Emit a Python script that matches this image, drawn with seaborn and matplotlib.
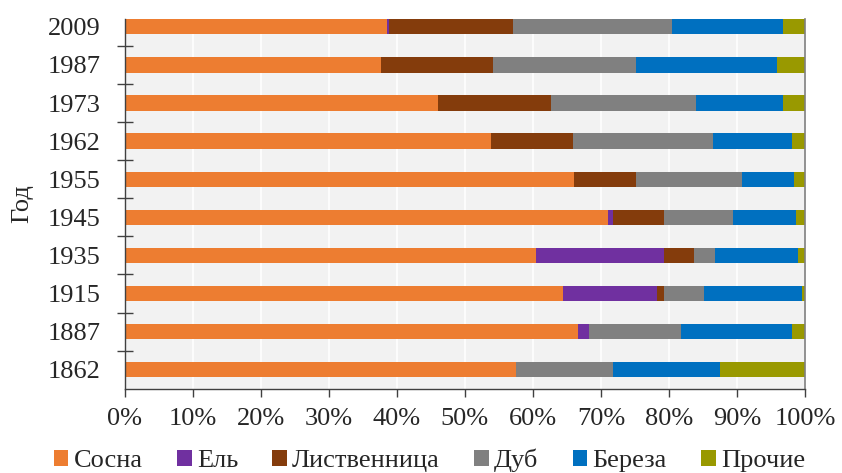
import numpy as np
import pandas as pd
import matplotlib
matplotlib.use("Agg")
import matplotlib.pyplot as plt
from matplotlib.patches import Patch
from matplotlib.ticker import FixedLocator
import seaborn as sns

# Species composition of the forest by survey year (share, %)
years = ["2009", "1987", "1973", "1962", "1955", "1945", "1935", "1915", "1887", "1862"]
species = ["Сосна", "Ель", "Лиственница", "Дуб", "Береза", "Прочие"]
sosna = [38.6, 37.7, 46.1, 53.8, 66.1, 71.1, 60.5, 64.4, 66.7, 57.5]
el = [0.2, 0.0, 0.0, 0.0, 0.0, 0.6, 18.7, 13.8, 1.6, 0.0]
listvennica = [18.3, 16.4, 16.6, 12.1, 9.1, 7.5, 4.4, 1.0, 0.0, 0.0]
dub = [23.4, 21.0, 21.3, 20.6, 15.5, 10.2, 3.1, 6.0, 13.4, 14.2]
bereza = [16.2, 20.7, 12.8, 11.5, 7.6, 9.3, 12.3, 14.4, 16.3, 15.8]
prochie = [3.3, 4.2, 3.2, 2.0, 1.7, 1.3, 1.0, 0.4, 2.0, 12.5]
x_ticks = [0, 10, 20, 30, 40, 50, 60, 70, 80, 90, 100]

colors = ["#ED7D31", "#7030A0", "#843C0C", "#808080", "#0070C0", "#999900"]

sns.set_style("white")
plt.rcParams["font.family"] = ["Liberation Serif", "DejaVu Serif"]
plt.rcParams["text.color"] = "#262626"
FS = 19

df = pd.DataFrame(
    {"Год": years, "Сосна": sosna, "Ель": el, "Лиственница": listvennica,
     "Дуб": dub, "Береза": bereza, "Прочие": prochie}
)
cum = df[species].cumsum(axis=1)

fig = plt.figure(figsize=(8.42, 4.73), dpi=100)
ax = fig.add_axes([0.1479, 0.1782, 0.8083, 0.7812])
ax.set_facecolor("#F2F2F2")

# Stacked bars: draw cumulative totals from the outermost layer inwards
for name, col in reversed(list(zip(species, colors))):
    sns.barplot(x=cum[name], y=df["Год"], order=years, color=col,
                saturation=1, width=0.4, orient="h", ax=ax, linewidth=0)

ax.set_xlim(0, 100)
ax.set_ylim(9.5, -0.2)
ax.set_xticks(x_ticks)
ax.set_xticklabels([f"{v}%" for v in x_ticks])
ax.grid(axis="x", color="white", linewidth=1.2)
ax.grid(axis="y", visible=False)
ax.set_axisbelow(True)

ax.yaxis.set_minor_locator(FixedLocator(np.arange(0.5, 9, 1.0)))
ax.tick_params(axis="y", which="major", length=0, pad=17, labelsize=FS,
               labelcolor="#262626")
ax.tick_params(axis="y", which="minor", direction="inout", length=11.5,
               width=1, color="#404040", left=True)
ax.tick_params(axis="x", which="major", direction="out", length=6, width=1,
               color="#404040", pad=8, labelsize=FS, labelcolor="#262626",
               bottom=True)

for side in ("left", "bottom"):
    ax.spines[side].set_color("#404040")
    ax.spines[side].set_linewidth(1)
ax.spines["right"].set_color("#7F7F7F")
ax.spines["right"].set_linewidth(1.2)
ax.spines["top"].set_visible(False)

ax.set_xlabel("")
ax.set_ylabel("Год", fontsize=FS, color="#262626")
ax.yaxis.set_label_coords(-0.134, 0.5)

handles = [Patch(facecolor=c, edgecolor="none", label=n) for n, c in zip(species, colors)]
fig.legend(handles=handles, loc="center", bbox_to_anchor=(0.51, 0.026), ncol=6,
           frameon=False, fontsize=FS, handlelength=0.55, handleheight=0.55,
           handletextpad=0.2, columnspacing=1.3, borderaxespad=0)

fig.savefig("out.png", dpi=100)
